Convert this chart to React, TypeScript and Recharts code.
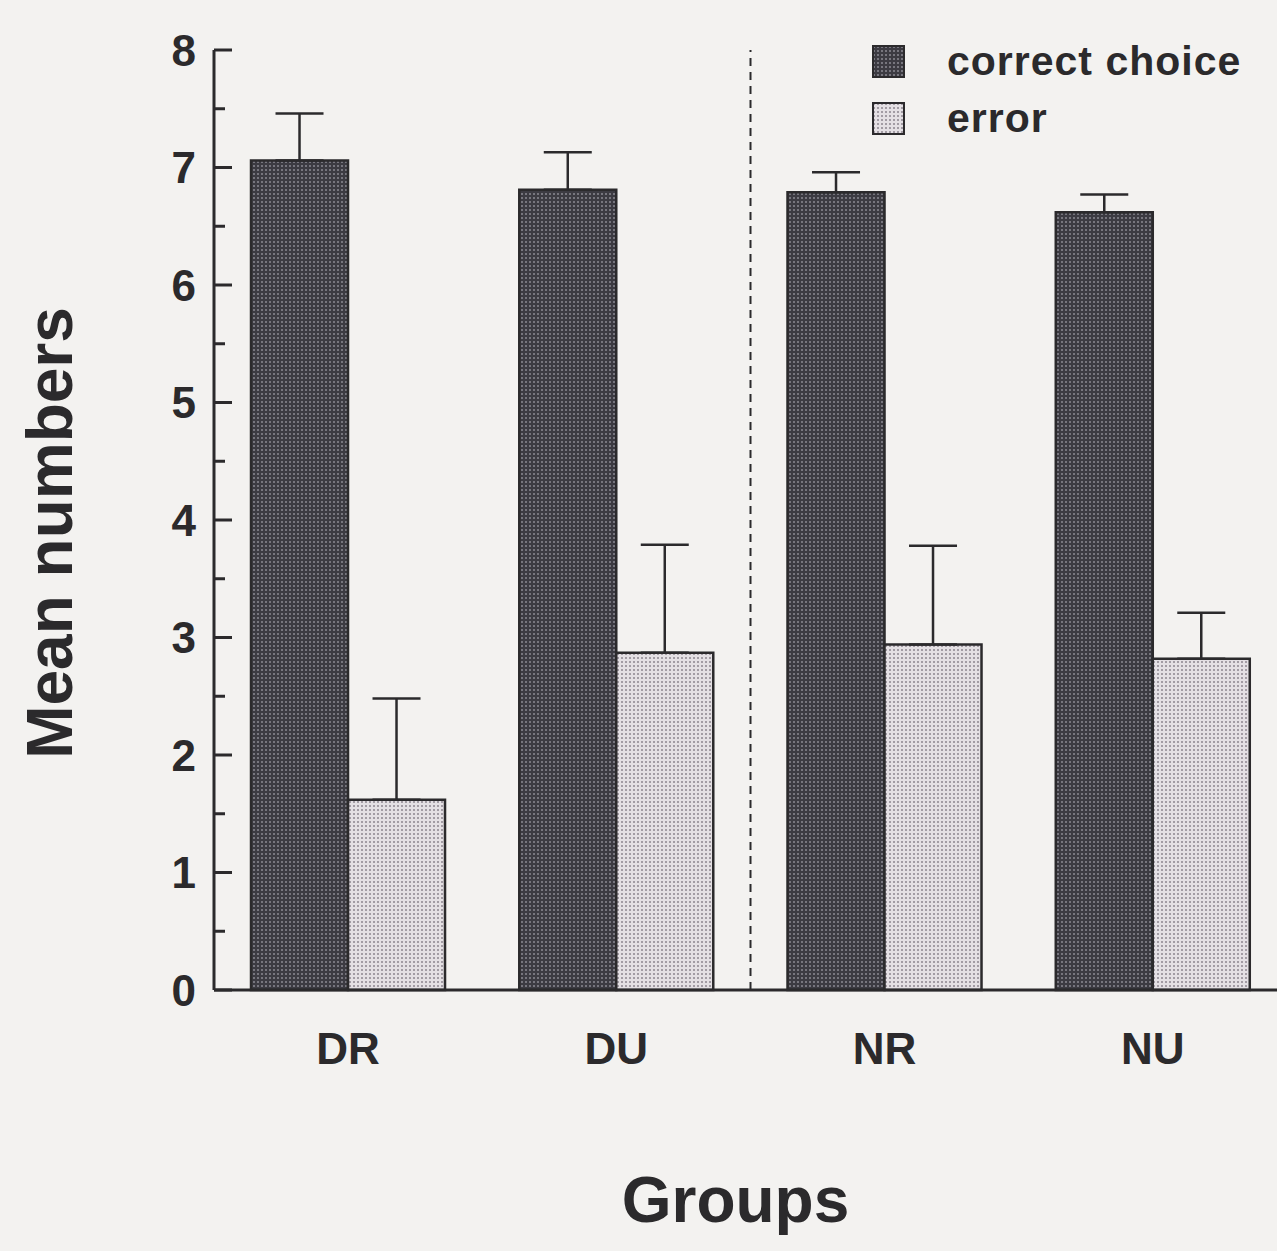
import React from "react";
import {
  BarChart,
  Bar,
  XAxis,
  YAxis,
  ErrorBar,
  ReferenceLine,
  Legend,
  Label,
} from "recharts";

const groups = ["DR", "DU", "NR", "NU"];
const correctMeans = [7.06, 6.81, 6.79, 6.62];
const correctSE = [0.4, 0.32, 0.17, 0.15];
const errorMeans = [1.62, 2.87, 2.94, 2.82];
const errorSE = [0.86, 0.92, 0.84, 0.39];
const yTicks = [0, 0.5, 1, 1.5, 2, 2.5, 3, 3.5, 4, 4.5, 5, 5.5, 6, 6.5, 7, 7.5, 8];

const data = groups.map((g, i) => ({
  group: g,
  correct: correctMeans[i],
  correctErr: [0, correctSE[i]],
  error: errorMeans[i],
  errorErr: [0, errorSE[i]],
}));

const FONT = '"Liberation Sans", Arial, Helvetica, sans-serif';
const INK = "#2b2a2c";
const BG = "#f3f2f0";

const DarkDots = ({ id }: { id: string }) => (
  <pattern id={id} width={4} height={4} patternUnits="userSpaceOnUse">
    <rect width={4} height={4} fill="#3c3b42" />
    <rect x={1} y={1} width={2} height={2} fill="#77767e" />
  </pattern>
);

const LightDots = ({ id }: { id: string }) => (
  <pattern id={id} width={4} height={4} patternUnits="userSpaceOnUse">
    <rect width={4} height={4} fill="#e4e0e4" />
    <rect x={1} y={1} width={2} height={2} fill="#a29ca4" />
  </pattern>
);

// y ticks point inward, labels on whole numbers only
const YTick = (props: any) => {
  const { x, y, payload } = props;
  const v = payload.value as number;
  const major = Number.isInteger(v);
  const ax = x + 18;
  return (
    <g>
      <line x1={ax} x2={ax + (major ? 18 : 11)} y1={y} y2={y} stroke={INK} strokeWidth={3} />
      {major && (
        <text
          x={x}
          y={y}
          textAnchor="end"
          dominantBaseline="central"
          fontFamily={FONT}
          fontWeight="bold"
          fontSize={44}
          fill={INK}
        >
          {v}
        </text>
      )}
    </g>
  );
};

const XTick = (props: any) => {
  const { x, y, payload } = props;
  return (
    <text
      x={x}
      y={y + 50}
      textAnchor="middle"
      dominantBaseline="central"
      fontFamily={FONT}
      fontWeight="bold"
      fontSize={44}
      fill={INK}
    >
      {payload.value}
    </text>
  );
};

const LegendBox = () => {
  const items = [
    { label: "correct choice", pid: "lgDark", P: DarkDots },
    { label: "error", pid: "lgLight", P: LightDots },
  ];
  return (
    <div style={{ fontFamily: FONT }}>
      {items.map(({ label, pid, P }) => (
        <div key={label} style={{ display: "flex", alignItems: "center", height: 57 }}>
          <svg width={34} height={34} style={{ display: "block" }}>
            <defs>
              <P id={pid} />
            </defs>
            <rect x={1} y={1} width={31} height={31} fill={`url(#${pid})`} stroke={INK} strokeWidth={2} />
          </svg>
          <span
            style={{
              marginLeft: 41,
              fontSize: 41,
              fontWeight: "bold",
              color: INK,
              letterSpacing: 1,
              lineHeight: "57px",
            }}
          >
            {label}
          </span>
        </div>
      ))}
    </div>
  );
};

export default function App() {
  return (
    <div
      style={{
        position: "absolute",
        left: 0,
        top: 0,
        width: 1277,
        height: 1251,
        overflow: "hidden",
        background: BG,
      }}
    >
      <BarChart
        width={1300}
        height={1251}
        data={data}
        margin={{ top: 50, right: 13, left: 100, bottom: 201 }}
        barCategoryGap="13.8%"
        barGap={0}
      >
        <defs>
          <DarkDots id="darkDots" />
          <LightDots id="lightDots" />
        </defs>
        <XAxis
          dataKey="group"
          height={60}
          axisLine={{ stroke: INK, strokeWidth: 3 }}
          tickLine={false}
          tick={<XTick />}
        >
          <Label
            content={({ viewBox }: any) => (
              <text
                x={viewBox.x + viewBox.width / 2 - 15}
                y={viewBox.y + 232}
                textAnchor="middle"
                fontFamily={FONT}
                fontWeight="bold"
                fontSize={64}
                fill={INK}
              >
                Groups
              </text>
            )}
          />
        </XAxis>
        <YAxis
          domain={[0, 8]}
          ticks={yTicks}
          interval={0}
          width={114}
          tickSize={0}
          tickMargin={18}
          tickLine={false}
          axisLine={{ stroke: INK, strokeWidth: 3 }}
          tick={<YTick />}
        >
          <Label
            content={({ viewBox }: any) => {
              const cx = viewBox.x - 50;
              const cy = viewBox.y + viewBox.height / 2 + 13;
              return (
                <text
                  x={cx}
                  y={cy}
                  transform={`rotate(-90 ${cx} ${cy})`}
                  textAnchor="middle"
                  dominantBaseline="central"
                  fontFamily={FONT}
                  fontWeight="bold"
                  fontSize={64}
                  fill={INK}
                >
                  Mean numbers
                </text>
              );
            }}
          />
        </YAxis>
        {/* divider between the D and N groups */}
        <ReferenceLine
          x="NR"
          position="start"
          stroke={INK}
          strokeWidth={2}
          strokeDasharray="8 6"
        />
        <Legend
          layout="horizontal"
          verticalAlign="middle"
          align="center"
          content={<LegendBox />}
          wrapperStyle={{ top: 33, left: 872, width: 400 }}
        />
        <Bar
          dataKey="correct"
          name="correct choice"
          fill="url(#darkDots)"
          stroke={INK}
          strokeWidth={2.5}
          isAnimationActive={false}
        >
          <ErrorBar dataKey="correctErr" width={24} stroke={INK} strokeWidth={2.5} />
        </Bar>
        <Bar
          dataKey="error"
          name="error"
          fill="url(#lightDots)"
          stroke={INK}
          strokeWidth={2.5}
          isAnimationActive={false}
        >
          <ErrorBar dataKey="errorErr" width={24} stroke={INK} strokeWidth={2.5} />
        </Bar>
      </BarChart>
    </div>
  );
}
